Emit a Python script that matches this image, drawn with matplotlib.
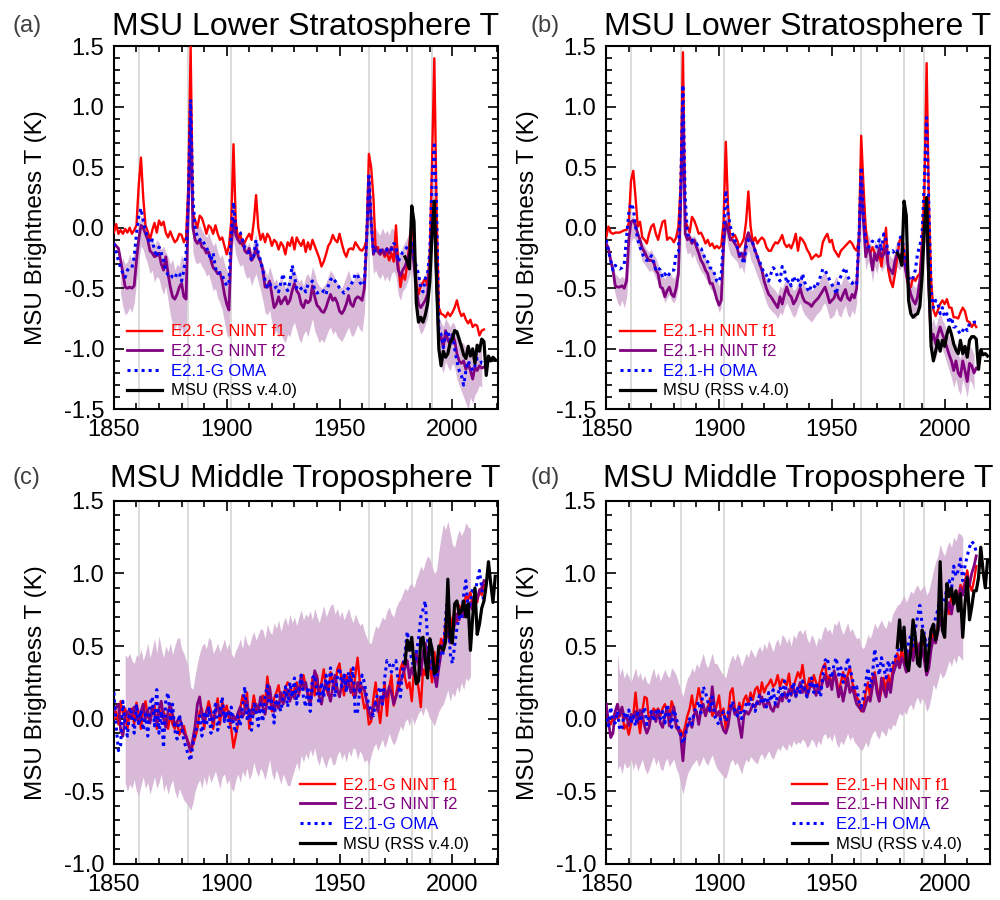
import numpy as np
import matplotlib
matplotlib.use('Agg')
import matplotlib.pyplot as plt
from matplotlib.ticker import MultipleLocator, FormatStrFormatter

plt.rcParams['font.family'] = ['Liberation Sans', 'DejaVu Sans']
plt.rcParams['axes.unicode_minus'] = False

# ---------------- data ----------------
model_years = np.arange(1850, 2015)
band_years_ls = np.arange(1853, 2014)
band_years_mt = np.arange(1855, 2009)
msu_years = np.arange(1979, 2020)
volcano_years = [1861, 1883, 1902, 1963, 1982, 1991]

titles = ["MSU Lower Stratosphere T", "MSU Lower Stratosphere T",
          "MSU Middle Troposphere T", "MSU Middle Troposphere T"]
panel_labels = ["(a)", "(b)", "(c)", "(d)"]
series_labels_g = ["E2.1-G NINT f1", "E2.1-G NINT f2", "E2.1-G OMA", "MSU (RSS v.4.0)"]
series_labels_h = ["E2.1-H NINT f1", "E2.1-H NINT f2", "E2.1-H OMA", "MSU (RSS v.4.0)"]
ylabel = "MSU Brightness T (K)"

# (a) lower stratosphere, E2.1-G
a_f1 = [-0.04, 0.03, -0.05, -0.02, -0.05, -0.01, -0.04, 0.0, -0.05, -0.02,
        0.02, 0.35, 0.58, 0.25, 0.02, -0.03, -0.10, -0.02, 0.04, -0.04,
        0.06, 0.02, 0.05, -0.04, -0.08, -0.03, -0.08, -0.12, -0.10, -0.05,
        -0.06, -0.12, -0.08, 0.35, 1.50, 0.12, 0.06, 0.0, 0.10, 0.08,
        0.02, -0.05, 0.02, 0.0, -0.05, 0.02, -0.05, -0.10, -0.08, -0.15,
        -0.22, -0.15, 0.05, 0.69, 0.05, -0.10, -0.05, -0.15, -0.12, -0.08,
        -0.05, -0.10, 0.05, 0.27, 0.0, -0.10, -0.05, -0.12, -0.05, -0.08,
        -0.15, -0.10, -0.12, -0.18, -0.12, -0.15, -0.22, -0.12, -0.15, -0.08,
        -0.18, -0.08, -0.12, -0.15, -0.10, -0.20,
        -0.12, -0.18, -0.10, -0.15, -0.20, -0.25, -0.32, -0.28, -0.22, -0.15,
        -0.12, -0.06, -0.10, -0.12, -0.05, -0.13, -0.20, -0.24, -0.18, -0.17,
        -0.18, -0.12, -0.15, -0.18, -0.19, -0.16, -0.10, 0.61, 0.50, 0.25,
        -0.18, -0.16, -0.22, -0.19, -0.24, -0.21, -0.27, -0.21, -0.28, 0.02,
        -0.30, -0.49, -0.38, -0.43, -0.30, -0.12, 0.05, -0.15, -0.45, -0.55,
        -0.48, -0.45, -0.42, -0.48, -0.20, 0.55, 1.40, 0.15, -0.66, -0.71,
        -0.72, -0.74, -0.70, -0.73, -0.70, -0.66, -0.60, -0.68, -0.73, -0.71,
        -0.76, -0.79, -0.76, -0.82, -0.80, -0.81, -0.89, -0.85, -0.84]
a_f2 = [-0.13, -0.15, -0.17, -0.27, -0.38, -0.49, -0.50, -0.49, -0.50, -0.48,
        -0.27, -0.10, 0.02, 0.0, -0.05, -0.10, -0.19, -0.21, -0.24, -0.23,
        -0.21, -0.30, -0.35, -0.24, -0.38, -0.49, -0.57, -0.59, -0.55, -0.49,
        -0.46, -0.57, -0.59, 0.20, 0.90, 0.0, -0.10, -0.13, -0.10, -0.16,
        -0.17, -0.21, -0.20, -0.27, -0.33, -0.35, -0.38, -0.37, -0.44, -0.55,
        -0.63, -0.68, -0.15, 0.07, -0.06, -0.10, -0.13, -0.10, -0.19, -0.21,
        -0.17, -0.27, -0.24, -0.16, -0.24, -0.28, -0.35, -0.49, -0.49, -0.44,
        -0.55, -0.66, -0.63, -0.57, -0.63, -0.60, -0.57, -0.63, -0.60, -0.52,
        -0.46, -0.52, -0.55, -0.63, -0.66, -0.60,
        -0.62, -0.60, -0.48, -0.57, -0.64, -0.66, -0.69, -0.70, -0.66, -0.60,
        -0.55, -0.60, -0.58, -0.62, -0.69, -0.71, -0.68, -0.63, -0.56, -0.63,
        -0.65, -0.59, -0.57, -0.58, -0.60, -0.50, -0.10, 0.40, 0.05, -0.22,
        -0.16, -0.20, -0.22, -0.18, -0.22, -0.17, -0.21, -0.16, -0.18, -0.20,
        -0.35, -0.40, -0.35, -0.32, -0.27, -0.20, -0.15, -0.30, -0.50, -0.63,
        -0.66, -0.63, -0.60, -0.55, -0.30, 0.05, 0.17, -0.45, -0.93, -0.90,
        -0.99, -0.85, -0.93, -0.96, -0.88, -0.93, -1.04, -1.10, -1.12, -1.10,
        -1.17, -1.12, -1.18, -1.25, -1.15, -1.18, -1.14, -1.16, -1.15]
a_oma = [-0.13, -0.21, -0.27, -0.33, -0.38, -0.41, -0.35, -0.33, -0.33, -0.24,
         -0.05, 0.09, 0.16, 0.06, -0.02, -0.08, -0.13, -0.10, -0.19, -0.24,
         -0.16, -0.21, -0.27, -0.35, -0.39, -0.38, -0.41, -0.42, -0.37, -0.38,
         -0.44, -0.35, -0.21, 0.25, 1.06, 0.25, 0.0, -0.08, -0.10, -0.09,
         -0.13, -0.16, -0.21, -0.27, -0.21, -0.33, -0.38, -0.37, -0.39, -0.44,
         -0.48, -0.46, -0.05, 0.21, 0.0, -0.02, -0.04, -0.10, -0.17, -0.19,
         -0.21, -0.27, -0.23, -0.10, -0.21, -0.27, -0.35, -0.44, -0.49, -0.46,
         -0.49, -0.50, -0.49, -0.53, -0.45, -0.38, -0.49, -0.52, -0.45, -0.31,
         -0.40, -0.50, -0.52,
         -0.50, -0.49, -0.53, -0.47, -0.46, -0.44, -0.51, -0.54, -0.53, -0.54,
         -0.52, -0.55, -0.48, -0.43, -0.41, -0.44, -0.46, -0.50, -0.52, -0.54,
         -0.52, -0.50, -0.47, -0.44, -0.38, -0.39, -0.45, -0.48, -0.45, -0.10,
         0.45, 0.05, -0.20, -0.18, -0.19, -0.19, -0.18, -0.19, -0.18, -0.20,
         -0.18, -0.13, -0.14, -0.28, -0.24, -0.20, -0.18, -0.16, -0.14, -0.10,
         -0.25, -0.32, -0.38, -0.50, -0.53, -0.42, -0.38, -0.20, 0.39, 0.71,
         0.17, -0.85, -0.88, -0.99, -0.88, -0.85, -0.93, -0.88, -1.0, -1.10,
         -1.18, -1.22, -1.30, -1.18, -1.10, -1.14, -1.18, -1.14, -1.08, -1.08,
         -1.12, -1.12]
a_hi = [-0.30, -0.25, -0.30, -0.28, -0.22, -0.28, -0.20, -0.10, 0.02, 0.10,
        0.06, -0.02, -0.05, -0.12, -0.08, -0.15, -0.10, -0.12, -0.18, -0.15,
        -0.20, -0.24, -0.30, -0.26, -0.35, -0.30, -0.32, -0.22, -0.28, -0.35,
        0.50, 1.05, 0.10, 0.05, 0.0, 0.02, -0.02, -0.05, -0.08, -0.04,
        -0.10, -0.15, -0.12, -0.20, -0.25, -0.22, -0.30, -0.35, -0.38, 0.0,
        0.22, 0.05, -0.05, -0.08, -0.12, -0.10, -0.15, -0.12, -0.20, -0.10,
        -0.05, -0.18, -0.25, -0.30, -0.35, -0.40, -0.32, -0.38, -0.45, -0.42,
        -0.48, -0.40, -0.45, -0.50, -0.45, -0.40, -0.30, -0.35, -0.40, -0.45,
        -0.42, -0.48, -0.40, -0.38, -0.42, -0.32, -0.38, -0.45, -0.48, -0.50,
        -0.48, -0.45, -0.40, -0.35, -0.38, -0.42, -0.45, -0.48, -0.50, -0.45,
        -0.40, -0.35, -0.42, -0.45, -0.38, -0.36, -0.40, -0.42, -0.35, -0.02,
        0.48, 0.18, -0.05, 0.0, -0.04, -0.06, 0.0, -0.05, -0.02, -0.06,
        0.0, -0.02, -0.05, -0.18, -0.22, -0.15, -0.12, -0.08, -0.02, 0.02,
        -0.12, -0.30, -0.40, -0.45, -0.42, -0.38, -0.32, -0.10, 0.40, 0.72,
        0.10, -0.75, -0.78, -0.82, -0.75, -0.78, -0.82, -0.78, -0.80, -0.88,
        -0.92, -0.95, -0.95, -1.0, -0.95, -1.0, -1.05, -1.0, -1.02, -0.98,
        -1.0]
a_lo = [-0.55, -0.65, -0.72, -0.70, -0.66, -0.70, -0.62, -0.45, -0.28, -0.15,
        -0.18, -0.25, -0.30, -0.38, -0.35, -0.45, -0.40, -0.42, -0.50, -0.55,
        -0.48, -0.60, -0.72, -0.80, -0.85, -0.78, -0.88, -0.82, -0.90, -0.85,
        -0.10, 0.80, -0.20, -0.28, -0.30, -0.28, -0.32, -0.35, -0.40, -0.38,
        -0.45, -0.52, -0.50, -0.58, -0.62, -0.68, -0.78, -0.88, -0.92, -0.25,
        -0.10, -0.22, -0.28, -0.32, -0.30, -0.38, -0.42, -0.40, -0.48, -0.42,
        -0.38, -0.45, -0.52, -0.60, -0.70, -0.72, -0.68, -0.78, -0.88, -0.85,
        -0.90, -0.88, -0.92, -0.95, -0.88, -0.90, -0.82, -0.78, -0.85, -0.92,
        -0.95, -0.88, -0.85, -0.90, -0.82, -0.75, -0.85, -0.90, -0.95, -0.92,
        -0.95, -0.90, -0.85, -0.82, -0.88, -0.85, -0.90, -0.92, -0.94, -0.90,
        -0.86, -0.82, -0.88, -0.90, -0.85, -0.80, -0.84, -0.86, -0.70, -0.30,
        0.25, -0.15, -0.38, -0.35, -0.40, -0.42, -0.38, -0.44, -0.40, -0.45,
        -0.38, -0.36, -0.40, -0.55, -0.60, -0.52, -0.50, -0.45, -0.40, -0.35,
        -0.50, -0.70, -0.82, -0.88, -0.85, -0.80, -0.75, -0.50, -0.10, 0.05,
        -0.60, -1.12, -1.15, -1.20, -1.10, -1.15, -1.18, -1.12, -1.15, -1.25,
        -1.30, -1.35, -1.40, -1.45, -1.50, -1.40, -1.45, -1.38, -1.35, -1.30,
        -1.32]
msu_ls_a = [-0.24, -0.28, -0.34, 0.18, 0.05, -0.62, -0.78, -0.74, -0.78, -0.72,
            -0.63, -0.45, -0.05, 0.22, -0.45, -1.00, -1.14, -1.02, -1.07, -1.04,
            -0.95, -0.92, -0.85, -0.86, -0.92, -0.98, -1.05, -1.08, -0.98, -1.06,
            -1.00, -1.12, -0.97, -1.02, -0.92, -0.94, -1.22, -1.06, -1.10, -1.07,
            -1.09]

# (b) lower stratosphere, E2.1-H
b_f1 = [-0.08, 0.01, -0.04, -0.05, -0.04, -0.04, -0.04, -0.03, -0.02, -0.02,
        0.04, 0.39, 0.47, 0.25, 0.01, 0.05, -0.08, -0.10, -0.13, -0.05,
        0.01, 0.03, -0.05, -0.10, -0.02, 0.05, 0.06, -0.10, -0.08, -0.09,
        -0.12, -0.08, 0.01, 0.35, 1.45, 0.06, 0.01, -0.04, 0.09, 0.06,
        0.01, -0.05, -0.04, -0.08, -0.13, -0.10, -0.15, -0.13, -0.17, -0.15,
        -0.17, -0.15, 0.05, 0.71, 0.17, -0.10, -0.08, -0.06, -0.10, -0.16,
        -0.13, -0.09, 0.05, 0.30, 0.01, -0.12, -0.08, -0.13, -0.10, -0.08,
        -0.10, -0.16, -0.19, -0.19, -0.15, -0.12, -0.13, -0.10, -0.06, -0.13,
        -0.16, -0.14, -0.17, -0.12, -0.05, -0.19,
        -0.08, -0.10, -0.13, -0.18, -0.21, -0.26, -0.24, -0.22, -0.24, -0.23,
        -0.12, -0.08, -0.05, -0.12, -0.10, -0.18, -0.21, -0.24, -0.19, -0.17,
        -0.15, -0.13, -0.11, -0.13, -0.17, -0.19, -0.10, 0.76, 0.35, 0.0,
        -0.15, -0.21, -0.16, -0.21, -0.26, -0.21, -0.32, -0.16, 0.0, -0.35,
        -0.44, -0.49, -0.38, -0.24, -0.11, -0.08, -0.19, -0.38, -0.49, -0.49,
        -0.41, -0.44, -0.40, -0.38, -0.10, 0.30, 1.36, 0.20, -0.44, -0.68,
        -0.73, -0.68, -0.63, -0.60, -0.63, -0.59, -0.66, -0.66, -0.74, -0.74,
        -0.75, -0.70, -0.66, -0.69, -0.77, -0.78, -0.82, -0.79, -0.82]
b_f2 = [-0.13, -0.17, -0.27, -0.35, -0.48, -0.49, -0.49, -0.48, -0.50, -0.44,
        -0.10, 0.05, 0.06, 0.02, -0.05, -0.10, -0.17, -0.20, -0.24, -0.27,
        -0.27, -0.28, -0.35, -0.38, -0.49, -0.50, -0.57, -0.52, -0.49, -0.55,
        -0.57, -0.50, -0.38, 0.20, 1.00, -0.05, -0.10, -0.08, -0.13, -0.10,
        -0.16, -0.21, -0.27, -0.30, -0.35, -0.38, -0.46, -0.46, -0.52, -0.59,
        -0.64, -0.60, -0.15, 0.05, -0.02, -0.10, -0.10, -0.13, -0.16, -0.24,
        -0.21, -0.27, -0.10, -0.04, -0.10, -0.13, -0.19, -0.24, -0.30, -0.35,
        -0.44, -0.50, -0.55, -0.57, -0.60, -0.63, -0.66, -0.57, -0.63, -0.55,
        -0.49, -0.55, -0.57, -0.63, -0.60, -0.55,
        -0.50, -0.57, -0.61, -0.62, -0.63, -0.65, -0.62, -0.60, -0.58, -0.55,
        -0.52, -0.49, -0.55, -0.62, -0.60, -0.58, -0.52, -0.58, -0.60, -0.55,
        -0.51, -0.58, -0.60, -0.55, -0.58, -0.50, -0.10, 0.39, 0.05, -0.24,
        -0.16, -0.21, -0.35, -0.21, -0.27, -0.17, -0.24, -0.22, -0.16, -0.32,
        -0.35, -0.38, -0.27, -0.21, -0.24, -0.21, -0.27, -0.38, -0.47, -0.55,
        -0.60, -0.63, -0.57, -0.44, -0.20, 0.0, 0.09, -0.50, -0.93, -0.88,
        -0.96, -0.88, -0.82, -0.88, -0.93, -0.99, -1.05, -1.10, -1.18, -1.10,
        -1.20, -1.23, -1.10, -1.18, -1.27, -1.12, -1.14, -1.20, -1.16]
b_oma = [-0.10, -0.19, -0.27, -0.35, -0.31, -0.33, -0.34, -0.33, -0.30, -0.08,
         0.12, 0.20, 0.16, 0.01, -0.10, -0.16, -0.21, -0.26, -0.27, -0.27,
         -0.23, -0.28, -0.35, -0.33, -0.35, -0.41, -0.38, -0.41, -0.38, -0.35,
         -0.35, -0.21, -0.20, 0.30, 1.18, 0.25, -0.05, -0.08, -0.10, -0.13,
         -0.13, -0.16, -0.17, -0.21, -0.27, -0.28, -0.33, -0.34, -0.38, -0.44,
         -0.45, -0.38, -0.10, 0.31, 0.12, 0.01, -0.05, -0.10, -0.16, -0.21,
         -0.24, -0.30, -0.16, -0.10, -0.10, -0.13, -0.19, -0.24, -0.28, -0.33,
         -0.38, -0.39, -0.44, -0.38, -0.33, -0.35, -0.41, -0.44, -0.32, -0.35,
         -0.46, -0.43, -0.48,
         -0.40, -0.45, -0.43, -0.48, -0.38, -0.45, -0.50, -0.53, -0.47, -0.48,
         -0.50, -0.45, -0.40, -0.34, -0.35, -0.39, -0.43, -0.47, -0.50, -0.55,
         -0.45, -0.40, -0.36, -0.33, -0.40, -0.44, -0.46, -0.44, -0.46, -0.10,
         0.50, 0.10, -0.10, -0.16, -0.15, -0.11, -0.13, -0.16, -0.10, -0.19,
         -0.05, -0.10, -0.21, -0.21, -0.19, -0.22, -0.20, -0.10, -0.05, -0.21,
         -0.32, -0.41, -0.44, -0.41, -0.35, -0.21, -0.15, -0.05, 0.40, 0.91,
         0.17, -0.52, -0.66, -0.60, -0.63, -0.71, -0.66, -0.74, -0.71, -0.79,
         -0.74, -0.82, -0.82, -0.85, -0.88, -0.85, -0.82, -0.85, -0.79, -0.79,
         -0.78, -0.78]
b_hi = [-0.30, -0.38, -0.40, -0.42, -0.40, -0.42, -0.35, -0.15, 0.08, 0.10,
        0.05, -0.02, -0.08, -0.12, -0.15, -0.18, -0.20, -0.18, -0.22, -0.25,
        -0.30, -0.35, -0.40, -0.42, -0.38, -0.36, -0.40, -0.42, -0.38, -0.30,
        0.50, 1.15, 0.05, -0.05, -0.04, -0.08, -0.06, -0.10, -0.15, -0.18,
        -0.20, -0.25, -0.28, -0.32, -0.34, -0.38, -0.42, -0.48, -0.45, -0.05,
        0.20, 0.0, -0.08, -0.10, -0.12, -0.14, -0.20, -0.18, -0.22, -0.10,
        -0.05, -0.12, -0.15, -0.20, -0.24, -0.28, -0.32, -0.38, -0.42, -0.45,
        -0.48, -0.50, -0.52, -0.55, -0.48, -0.50, -0.45, -0.42, -0.45, -0.48,
        -0.52, -0.50, -0.45, -0.38, -0.42, -0.48, -0.50, -0.50, -0.52, -0.50,
        -0.46, -0.45, -0.42, -0.38, -0.35, -0.42, -0.48, -0.46, -0.44, -0.40,
        -0.45, -0.47, -0.42, -0.38, -0.44, -0.46, -0.42, -0.44, -0.35, 0.0,
        0.48, 0.15, -0.12, -0.05, -0.10, -0.22, -0.10, -0.15, -0.06, -0.12,
        -0.10, -0.04, -0.20, -0.24, -0.26, -0.16, -0.10, -0.12, -0.10, -0.15,
        -0.26, -0.34, -0.42, -0.47, -0.50, -0.44, -0.32, -0.08, 0.15, 0.25,
        -0.35, -0.80, -0.75, -0.82, -0.75, -0.70, -0.76, -0.80, -0.85, -0.90,
        -0.95, -1.02, -0.95, -1.05, -1.08, -0.95, -1.02, -1.10, -0.98, -1.0,
        -1.05]
b_lo = [-0.45, -0.55, -0.62, -0.65, -0.60, -0.66, -0.58, -0.35, -0.12, -0.08,
        -0.10, -0.15, -0.20, -0.28, -0.30, -0.33, -0.36, -0.35, -0.37, -0.42,
        -0.45, -0.52, -0.56, -0.62, -0.58, -0.55, -0.60, -0.62, -0.58, -0.48,
        0.05, 0.85, -0.15, -0.22, -0.20, -0.25, -0.22, -0.28, -0.32, -0.36,
        -0.38, -0.42, -0.45, -0.50, -0.52, -0.56, -0.62, -0.70, -0.66, -0.25,
        -0.05, -0.15, -0.22, -0.24, -0.26, -0.28, -0.34, -0.32, -0.38, -0.25,
        -0.18, -0.26, -0.30, -0.35, -0.40, -0.45, -0.50, -0.56, -0.62, -0.66,
        -0.68, -0.70, -0.72, -0.75, -0.70, -0.72, -0.66, -0.62, -0.66, -0.70,
        -0.74, -0.72, -0.66, -0.62, -0.68, -0.72, -0.74, -0.76, -0.78, -0.75,
        -0.72, -0.70, -0.68, -0.64, -0.62, -0.68, -0.75, -0.74, -0.72, -0.66,
        -0.72, -0.74, -0.68, -0.64, -0.72, -0.74, -0.68, -0.72, -0.62, -0.20,
        0.28, -0.08, -0.35, -0.28, -0.32, -0.45, -0.32, -0.38, -0.28, -0.36,
        -0.33, -0.28, -0.42, -0.46, -0.50, -0.38, -0.32, -0.35, -0.32, -0.38,
        -0.50, -0.60, -0.68, -0.72, -0.76, -0.70, -0.56, -0.32, -0.15, -0.05,
        -0.65, -1.05, -1.0, -1.08, -1.0, -0.95, -1.0, -1.06, -1.12, -1.18,
        -1.24, -1.32, -1.25, -1.34, -1.38, -1.25, -1.32, -1.40, -1.26, -1.28,
        -1.34]
msu_ls_b = [-0.21, -0.24, -0.31, 0.22, 0.10, -0.60, -0.71, -0.74, -0.72, -0.71,
            -0.65, -0.40, 0.0, 0.25, -0.45, -0.98, -1.10, -1.02, -0.93, -1.02,
            -0.93, -0.98, -0.88, -0.82, -0.88, -0.96, -1.01, -1.04, -0.93, -1.04,
            -0.98, -1.07, -0.93, -0.90, -0.90, -0.92, -1.17, -1.01, -1.05, -1.04,
            -1.06]

# (c) middle troposphere, E2.1-G
c_f1 = [0.00, 0.05, -0.04, 0.12, 0.03, 0.07, -0.07, 0.05, 0.07, -0.04,
        0.11, 0.03, -0.07, 0.07, 0.12, 0.02, -0.02, 0.05, 0.09, -0.07,
        0.07, 0.01, 0.05, 0.0, -0.07, 0.03, -0.04, -0.07, -0.02, -0.11,
        -0.07, -0.05, -0.12, -0.16, -0.23, -0.18, -0.13, -0.07, 0.05, 0.07,
        -0.07, 0.05, 0.12, 0.05, -0.07, 0.05, 0.14, -0.04, 0.12, 0.05,
        0.09, 0.0, -0.07, -0.20, -0.12, -0.04, 0.07, 0.16, 0.07, 0.18,
        -0.07, 0.05, 0.16, 0.07, 0.05, 0.12, 0.16, 0.10, 0.29, 0.16,
        0.05, 0.14, 0.18, 0.23, 0.12, 0.16, 0.21, 0.25, 0.23, 0.16,
        0.21, 0.25, 0.16, 0.25, 0.30, 0.22, 0.18,
        0.12, 0.28, 0.16, 0.30, 0.16, 0.25, 0.34, 0.21, 0.16, 0.32,
        0.25, 0.20, 0.34, 0.38, 0.25, 0.16, 0.30, 0.23, 0.34, 0.16,
        0.30, 0.42, 0.25, 0.16, 0.07, 0.10, -0.04, -0.02, 0.14, 0.25,
        0.09, -0.03, 0.12, 0.25, 0.02, 0.21, 0.30, 0.09, 0.16, 0.25,
        0.34, 0.39, 0.28, 0.21, 0.25, 0.12, 0.34, 0.30, 0.21, 0.08,
        0.34, 0.30, 0.46, 0.37, 0.25, 0.46, 0.35, 0.45, 0.55, 0.50,
        0.66, 0.62, 0.57, 0.69, 0.73, 0.66, 0.78, 0.73, 0.76, 0.85,
        0.82, 0.87, 0.78, 0.82, 0.80, 0.89, 0.85, 0.92]
c_f2 = [0.05, 0.08, 0.10, -0.08, -0.12, 0.02, 0.05, 0.00, 0.03, 0.08,
        0.02, -0.02, 0.05, 0.10, 0.0, 0.06, -0.03, 0.08, 0.04, -0.05,
        0.07, 0.12, 0.0, -0.06, 0.05, 0.10, 0.03, -0.05, -0.02, 0.01,
        -0.04, -0.10, -0.12, -0.18, -0.22, -0.14, -0.05, 0.10, 0.15, 0.02,
        -0.03, 0.05, 0.08, 0.02, -0.02, 0.05, 0.10, 0.02, 0.06, 0.0,
        0.03, 0.05, -0.03, 0.02, -0.01, 0.04, 0.08, 0.01, 0.05, 0.12,
        0.0, 0.06, 0.03, 0.10, 0.05, 0.15, 0.08, 0.03, 0.12, 0.22,
        0.10, 0.05, 0.12, 0.07, 0.18, 0.10, 0.15, 0.20, 0.12, 0.18,
        0.14, 0.22, 0.18, 0.30, 0.20, 0.25, 0.15, 0.10, 0.20, 0.33,
        0.28, 0.15, 0.10, 0.20, 0.25, 0.18, 0.12, 0.22, 0.30, 0.20,
        0.15, 0.24, 0.30, 0.20, 0.26, 0.18, 0.22, 0.15, 0.25, 0.18,
        0.22, 0.20, 0.12, 0.05, 0.0, 0.08, 0.12, 0.05, 0.15, 0.10,
        0.20, 0.15, 0.22, 0.18, 0.10, 0.15, 0.20, 0.25, 0.30, 0.35,
        0.40, 0.28, 0.35, 0.30, 0.45, 0.38, 0.30, 0.45, 0.52, 0.40,
        0.35, 0.42, 0.30, 0.22, 0.35, 0.45, 0.50, 0.55, 0.60, 0.52,
        0.58, 0.65, 0.72, 0.68, 0.75, 0.70, 0.78, 0.72, 0.80, 0.75,
        0.85, 0.82, 0.88, 0.90, 0.95]
c_oma = [0.18, -0.05, -0.22, -0.18, 0.12, -0.05, -0.12, 0.08, 0.02, -0.10,
         0.10, -0.05, 0.06, -0.08, 0.03, -0.12, 0.10, 0.15, -0.05, 0.20,
         -0.10, 0.05, -0.20, 0.13, 0.18, -0.02, 0.10, -0.08, -0.14, 0.03,
         -0.05, -0.15, -0.20, -0.25, -0.29, -0.18, -0.10, -0.05, 0.02, -0.12,
         0.05, -0.05, 0.08, -0.10, 0.02, 0.10, -0.08, 0.03, 0.15, -0.02,
         0.05, -0.06, 0.08, -0.04, -0.10, 0.02, -0.05, 0.08, 0.22, 0.0,
         0.06, -0.08, 0.10, 0.05, -0.05, 0.10, -0.02, 0.15, 0.23, 0.05,
         0.12, -0.03, 0.18, 0.10, 0.05, 0.15, 0.22, 0.08, 0.25, 0.15,
         0.28, 0.10, 0.20, 0.30, 0.15, 0.08, 0.22, 0.05, 0.28, 0.30,
         0.18, 0.10, 0.25, 0.15, 0.30, 0.20, 0.35, 0.25, 0.15, 0.28,
         0.35, 0.22, 0.30, 0.18, 0.32, 0.25, 0.35, 0.03, 0.05, 0.20,
         0.30, 0.25, 0.15, 0.10, 0.05, 0.02, 0.12, 0.18, 0.22, 0.10,
         0.28, 0.40, 0.38, 0.32, 0.38, 0.40, 0.25, 0.15, 0.35, 0.45,
         0.60, 0.50, 0.40, 0.35, 0.45, 0.55, 0.70, 0.75, 0.81, 0.55,
         0.40, 0.35, 0.30, 0.28, 0.40, 0.50, 0.45, 0.70, 0.85, 0.45,
         0.38, 0.50, 0.62, 0.70, 0.68, 0.85, 0.95, 0.75, 0.80, 0.90,
         0.85, 0.95, 1.02, 0.90, 0.80]
c_hi = [0.44, 0.42, 0.45, 0.40, 0.38, 0.44, 0.42, 0.48, 0.40, 0.45,
        0.52, 0.42, 0.48, 0.55, 0.45, 0.57, 0.48, 0.42, 0.50, 0.46,
        0.52, 0.44, 0.50, 0.55, 0.56, 0.48, 0.45, 0.40, 0.35, 0.22,
        0.20, 0.30, 0.38, 0.45, 0.50, 0.52, 0.48, 0.56, 0.54, 0.45,
        0.48, 0.52, 0.46, 0.50, 0.55, 0.48, 0.52, 0.45, 0.42, 0.47,
        0.50, 0.55, 0.48, 0.58, 0.52, 0.50, 0.56, 0.60, 0.54, 0.58,
        0.62, 0.61, 0.55, 0.65, 0.60, 0.58, 0.66, 0.62, 0.68, 0.60,
        0.66, 0.70, 0.64, 0.72, 0.66, 0.70, 0.64, 0.70, 0.75, 0.68,
        0.72, 0.70, 0.74, 0.68, 0.76, 0.70, 0.66, 0.72, 0.78, 0.70,
        0.74, 0.78, 0.79, 0.72, 0.76, 0.70, 0.74, 0.68, 0.72, 0.76,
        0.70, 0.66, 0.72, 0.68, 0.64, 0.66, 0.60, 0.56, 0.52, 0.52,
        0.58, 0.64, 0.62, 0.66, 0.70, 0.68, 0.74, 0.77, 0.72, 0.70,
        0.76, 0.80, 0.82, 0.86, 0.90, 0.88, 0.92, 0.93, 0.90, 0.96,
        1.00, 1.05, 1.02, 1.08, 1.12, 1.10, 1.05, 1.00, 1.02, 1.15,
        1.25, 1.34, 1.30, 1.36, 1.28, 1.20, 1.18, 1.25, 1.30, 1.26,
        1.29, 1.35, 1.32, 1.31]
c_lo = [-0.44, -0.50, -0.45, -0.48, -0.42, -0.50, -0.53, -0.46, -0.40, -0.48,
        -0.44, -0.52, -0.46, -0.40, -0.48, -0.44, -0.38, -0.50, -0.45, -0.52,
        -0.46, -0.42, -0.50, -0.55, -0.48, -0.52, -0.56, -0.58, -0.60, -0.63,
        -0.58, -0.50, -0.45, -0.42, -0.48, -0.40, -0.46, -0.38, -0.44, -0.40,
        -0.36, -0.42, -0.48, -0.40, -0.38, -0.45, -0.42, -0.48, -0.50, -0.42,
        -0.38, -0.44, -0.36, -0.40, -0.34, -0.42, -0.38, -0.30, -0.36, -0.40,
        -0.34, -0.37, -0.42, -0.35, -0.28, -0.38, -0.42, -0.35, -0.40, -0.45,
        -0.38, -0.42, -0.46, -0.46, -0.40, -0.35, -0.30, -0.36, -0.25, -0.30,
        -0.24, -0.28, -0.21, -0.26, -0.20, -0.28, -0.32, -0.25, -0.30, -0.34,
        -0.28, -0.26, -0.32, -0.31, -0.25, -0.22, -0.28, -0.24, -0.30, -0.22,
        -0.26, -0.20, -0.21, -0.28, -0.22, -0.25, -0.30, -0.28, -0.32, -0.25,
        -0.20, -0.17, -0.22, -0.18, -0.14, -0.20, -0.16, -0.10, -0.15, -0.18,
        -0.15, -0.10, -0.05, -0.08, -0.02, 0.0, -0.05, 0.02, -0.04, 0.0,
        0.04, 0.06, 0.02, 0.08, 0.05, 0.0, -0.02, -0.05, 0.0, 0.05,
        0.08, 0.10, 0.15, 0.20, 0.12, 0.18, 0.15, 0.22, 0.18, 0.25,
        0.20, 0.28, 0.26, 0.29]
msu_mt_c = [0.38, 0.54, 0.47, 0.56, 0.38, 0.24, 0.26, 0.55, 0.56, 0.40,
            0.28, 0.55, 0.48, 0.31, 0.33, 0.50, 0.49, 0.47, 0.53, 0.96,
            0.56, 0.52, 0.79, 0.81, 0.72, 0.74, 0.81, 0.70, 0.79, 0.47,
            0.70, 0.90, 0.58, 0.65, 0.76, 0.81, 0.92, 1.08, 0.93, 0.80,
            0.98]

# (d) middle troposphere, E2.1-H
d_f1 = [0.00, 0.0, -0.04, 0.0, 0.05, 0.0, 0.02, 0.07, -0.07, -0.04,
        -0.11, -0.04, 0.02, 0.18, 0.02, -0.10, 0.05, 0.15, 0.14, -0.02,
        0.02, 0.07, 0.05, 0.07, 0.02, 0.07, 0.10, 0.05, 0.02, 0.12,
        0.07, -0.04, -0.07, -0.08, -0.12, -0.05, 0.02, 0.07, 0.16, 0.05,
        0.12, 0.21, 0.13, 0.07, 0.02, 0.07, 0.14, 0.02, 0.05, 0.09,
        0.16, 0.02, 0.07, -0.07, 0.02, 0.18, 0.21, 0.07, 0.02, 0.11,
        0.05, 0.13, 0.16, 0.10, 0.18, 0.13, 0.20, 0.22, 0.15, 0.25,
        0.18, 0.22, 0.24, 0.27, 0.22, 0.24, 0.30, 0.22, 0.27, 0.25,
        0.23, 0.31, 0.18, 0.22, 0.27, 0.32,
        0.28, 0.37, 0.25, 0.20, 0.28, 0.22, 0.30, 0.25, 0.20, 0.30,
        0.35, 0.38, 0.25, 0.30, 0.22, 0.32, 0.28, 0.18, 0.25, 0.32,
        0.24, 0.30, 0.35, 0.25, 0.20, 0.15, 0.12, 0.05, 0.08, 0.18,
        0.25, 0.15, 0.28, 0.32, 0.22, 0.12, 0.20, 0.28, 0.18, 0.30,
        0.22, 0.35, 0.40, 0.45, 0.38, 0.48, 0.40, 0.35, 0.42, 0.50,
        0.45, 0.55, 0.48, 0.42, 0.50, 0.55, 0.40, 0.45, 0.52, 0.60,
        0.55, 0.65, 0.72, 0.62, 0.68, 0.78, 0.72, 0.85, 0.80, 0.88,
        0.82, 0.92, 0.88, 0.95, 1.02, 0.92, 0.88, 0.95, 1.05]
d_f2 = [0.10, -0.02, -0.13, -0.10, 0.05, 0.10, 0.02, 0.08, 0.0, 0.02,
        -0.05, 0.03, 0.0, 0.05, -0.03, 0.06, 0.02, -0.05, -0.10, -0.06,
        0.03, 0.05, -0.02, 0.06, -0.03, -0.06, 0.02, 0.07, -0.05, 0.03,
        0.08, -0.06, -0.08, -0.12, -0.29, -0.10, -0.05, -0.02, -0.06, 0.03,
        0.05, -0.04, 0.06, 0.10, 0.02, 0.08, 0.05, 0.22, 0.08, 0.02,
        0.05, -0.03, -0.08, -0.10, -0.05, 0.06, 0.10, 0.03, 0.06, -0.04,
        -0.13, 0.02, 0.05, 0.03, 0.06, 0.10, 0.08, 0.12, 0.10, 0.15,
        0.08, 0.10, 0.12, 0.07, 0.05, 0.10, 0.08, 0.15, 0.12, 0.18,
        0.14, 0.20, 0.16, 0.22, 0.15, 0.20, 0.25, 0.18, 0.22, 0.15,
        0.20, 0.25, 0.22, 0.16, 0.22, 0.20, 0.26, 0.30, 0.22, 0.27,
        0.20, 0.33, 0.25, 0.15, 0.22, 0.12, 0.20, 0.28, 0.18, 0.22,
        0.16, 0.10, 0.08, 0.06, 0.05, 0.10, 0.15, 0.12, 0.22, 0.30,
        0.18, 0.12, 0.28, 0.20, 0.15, 0.25, 0.18, 0.30, 0.35, 0.40,
        0.35, 0.42, 0.38, 0.32, 0.45, 0.48, 0.40, 0.50, 0.45, 0.52,
        0.48, 0.40, 0.30, 0.35, 0.48, 0.55, 0.52, 0.60, 0.70, 0.62,
        0.68, 0.75, 0.80, 0.72, 0.82, 0.85, 0.80, 0.90, 0.85, 0.92,
        0.98, 0.92, 1.00, 1.05, 1.12]
d_oma = [0.0, -0.05, 0.08, -0.02, -0.03, 0.05, -0.08, -0.06, 0.03, 0.0,
         0.06, -0.03, 0.02, -0.05, 0.04, -0.02, 0.03, 0.08, -0.04, 0.02,
         0.05, -0.02, 0.04, 0.07, 0.0, 0.05, -0.03, 0.10, 0.03, -0.06,
         0.06, 0.01, -0.06, -0.10, -0.17, -0.12, -0.05, 0.0, -0.04, 0.05,
         0.08, 0.12, 0.04, 0.22, 0.18, 0.12, 0.06, 0.15, 0.02, -0.02,
         -0.04, 0.02, 0.05, -0.02, 0.04, 0.08, 0.12, 0.05, 0.02, 0.08,
         0.0, 0.05, 0.10, 0.08, 0.14, 0.10, 0.05, 0.12, 0.16, 0.10,
         0.15, 0.08, 0.18, 0.12, 0.20, 0.10, 0.16, 0.22, 0.14, 0.26,
         0.18, 0.12, 0.20, 0.25, 0.15, 0.22, 0.18, 0.26, 0.20, 0.15,
         0.22, 0.28, 0.18, 0.25, 0.20, 0.15, 0.30, 0.40, 0.42, 0.32,
         0.28, 0.38, 0.42, 0.30, 0.35, 0.25, 0.32, 0.42, 0.35, 0.28,
         0.20, 0.22, 0.12, 0.08, 0.15, 0.25, 0.35, 0.22, 0.30, 0.48,
         0.38, 0.30, 0.42, 0.35, 0.28, 0.40, 0.33, 0.38, 0.42, 0.45,
         0.50, 0.48, 0.55, 0.45, 0.52, 0.58, 0.50, 0.62, 0.70, 0.78,
         0.65, 0.58, 0.50, 0.52, 0.60, 0.62, 0.70, 0.75, 0.85, 0.80,
         0.82, 0.90, 0.95, 0.88, 1.05, 0.98, 1.02, 1.10, 0.95, 1.05,
         1.12, 1.18, 1.22, 1.20, 1.15]
d_hi = [0.45, 0.30, 0.35, 0.28, 0.32, 0.29, 0.25, 0.30, 0.35, 0.28,
        0.32, 0.26, 0.30, 0.25, 0.24, 0.30, 0.35, 0.28, 0.32, 0.26,
        0.30, 0.34, 0.30, 0.28, 0.35, 0.33, 0.30, 0.25, 0.20, 0.15,
        0.22, 0.28, 0.30, 0.35, 0.32, 0.38, 0.35, 0.40, 0.45, 0.38,
        0.35, 0.40, 0.45, 0.38, 0.38, 0.35, 0.32, 0.30, 0.28, 0.35,
        0.40, 0.44, 0.40, 0.45, 0.42, 0.36, 0.40, 0.45, 0.42, 0.48,
        0.45, 0.42, 0.47, 0.50, 0.46, 0.52, 0.48, 0.54, 0.50, 0.46,
        0.52, 0.55, 0.50, 0.58, 0.56, 0.52, 0.56, 0.50, 0.58, 0.55,
        0.60, 0.61, 0.58, 0.62, 0.55, 0.52, 0.58, 0.55, 0.50, 0.56,
        0.54, 0.60, 0.64, 0.60, 0.62, 0.58, 0.66, 0.64, 0.68, 0.62,
        0.58, 0.62, 0.66, 0.60, 0.62, 0.58, 0.55, 0.56, 0.50, 0.48,
        0.52, 0.58, 0.55, 0.60, 0.66, 0.62, 0.65, 0.68, 0.64, 0.62,
        0.68, 0.66, 0.72, 0.75, 0.78, 0.79, 0.82, 0.85, 0.80, 0.84,
        0.88, 0.86, 0.90, 0.92, 0.88, 0.90, 0.92, 0.85, 0.88, 0.95,
        1.02, 1.08, 1.12, 1.20, 1.15, 1.12, 1.18, 1.22, 1.18, 1.25,
        1.22, 1.28, 1.27, 1.25]
d_lo = [-0.35, -0.32, -0.38, -0.30, -0.34, -0.33, -0.28, -0.35, -0.30, -0.36,
        -0.32, -0.28, -0.34, -0.38, -0.35, -0.30, -0.26, -0.32, -0.28, -0.34,
        -0.36, -0.30, -0.27, -0.33, -0.30, -0.28, -0.34, -0.38, -0.45, -0.52,
        -0.45, -0.38, -0.35, -0.32, -0.30, -0.28, -0.33, -0.30, -0.26, -0.30,
        -0.32, -0.28, -0.25, -0.30, -0.34, -0.36, -0.38, -0.40, -0.41, -0.36,
        -0.30, -0.28, -0.32, -0.30, -0.34, -0.38, -0.32, -0.28, -0.30, -0.26,
        -0.28, -0.30, -0.31, -0.26, -0.24, -0.28, -0.25, -0.22, -0.26, -0.28,
        -0.24, -0.20, -0.22, -0.18, -0.20, -0.22, -0.17, -0.20, -0.15, -0.18,
        -0.16, -0.17, -0.14, -0.16, -0.20, -0.18, -0.14, -0.16, -0.20, -0.15,
        -0.18, -0.12, -0.10, -0.14, -0.12, -0.16, -0.10, -0.17, -0.20, -0.15,
        -0.18, -0.14, -0.10, -0.15, -0.12, -0.16, -0.18, -0.20, -0.22, -0.20,
        -0.16, -0.20, -0.14, -0.10, -0.08, -0.12, -0.14, -0.08, -0.10, -0.12,
        -0.06, -0.08, -0.04, -0.05, 0.0, 0.04, 0.02, 0.05, 0.03, 0.08,
        0.10, 0.06, 0.12, 0.15, 0.10, 0.14, 0.12, 0.05, 0.08, 0.15,
        0.24, 0.20, 0.26, 0.32, 0.28, 0.30, 0.35, 0.40, 0.36, 0.42,
        0.38, 0.44, 0.42, 0.40]
msu_mt_d = [0.49, 0.68, 0.47, 0.63, 0.38, 0.33, 0.47, 0.68, 0.56, 0.38,
            0.36, 0.61, 0.56, 0.33, 0.47, 0.61, 0.65, 0.54, 0.61, 1.08,
            0.61, 0.56, 0.93, 0.84, 0.90, 0.79, 0.88, 0.74, 0.86, 0.56,
            0.79, 0.97, 0.68, 0.77, 0.88, 0.88, 0.97, 1.18, 1.02, 0.90,
            1.09]

# ---------------- style ----------------
C_F1 = '#ff0000'
C_F2 = '#800080'
C_OMA = '#0000ff'
C_MSU = '#000000'
C_BAND = '#d8b9d8'
C_VOLC = '#d9d9d9'
colors = [C_F1, C_F2, C_OMA, C_MSU]

W, H = 1000, 900
fig = plt.figure(figsize=(10, 9), dpi=100)

def px_axes(left, top, right, bottom):
    return [left / W, 1 - bottom / H, (right - left) / W, (bottom - top) / H]

axes_px = [(113.9, 46.2, 497.5, 409.3), (606.2, 46.2, 989.8, 409.3),
           (113.9, 500.7, 497.5, 864.0), (606.2, 500.7, 989.8, 864.0)]

panels = [
    dict(f1=a_f1, f2=a_f2, oma=a_oma, lo=a_lo, hi=a_hi, by=band_years_ls,
         msu=msu_ls_a, labels=series_labels_g, ylim=(-1.5, 1.5), leg='ll'),
    dict(f1=b_f1, f2=b_f2, oma=b_oma, lo=b_lo, hi=b_hi, by=band_years_ls,
         msu=msu_ls_b, labels=series_labels_h, ylim=(-1.5, 1.5), leg='ll'),
    dict(f1=c_f1, f2=c_f2, oma=c_oma, lo=c_lo, hi=c_hi, by=band_years_mt,
         msu=msu_mt_c, labels=series_labels_g, ylim=(-1.0, 1.5), leg='lr'),
    dict(f1=d_f1, f2=d_f2, oma=d_oma, lo=d_lo, hi=d_hi, by=band_years_mt,
         msu=msu_mt_d, labels=series_labels_h, ylim=(-1.0, 1.5), leg='lr'),
]

title_base = [35, 35, 487, 487]
label_x = [13, 530, 13, 530]
ylab_x = [36, 528, 36, 528]

for i, p in enumerate(panels):
    l, t, r, b = axes_px[i]
    ax = fig.add_axes(px_axes(l, t, r, b))
    ax.fill_between(p['by'], p['lo'], p['hi'], color=C_BAND, lw=0, zorder=1)
    for v in volcano_years:
        ax.axvline(v, color=C_VOLC, lw=1.3, zorder=0.5)
    h1, = ax.plot(model_years, p['f1'], color=C_F1, lw=1.7, zorder=3)
    h2, = ax.plot(model_years, p['f2'], color=C_F2, lw=2.0, zorder=4)
    h3, = ax.plot(model_years, p['oma'], color=C_OMA, lw=2.2,
                  linestyle=(0, (1, 1.3)), zorder=5)
    h4, = ax.plot(msu_years, p['msu'], color=C_MSU, lw=2.3, zorder=6)
    ax.set_xlim(1850, 2020)
    ax.set_ylim(*p['ylim'])
    ax.xaxis.set_major_locator(MultipleLocator(50))
    ax.xaxis.set_minor_locator(MultipleLocator(10))
    ax.yaxis.set_major_locator(MultipleLocator(0.5))
    ax.yaxis.set_minor_locator(MultipleLocator(0.1))
    ax.yaxis.set_major_formatter(FormatStrFormatter('%.1f'))
    ax.tick_params(which='both', direction='in', top=True, right=True,
                   labelsize=17, width=1.2)
    ax.tick_params(which='major', length=7, pad=7)
    ax.tick_params(which='minor', length=4)
    for s in ax.spines.values():
        s.set_linewidth(1.5)

    common = dict(frameon=False, fontsize=12, handlelength=2.1,
                  handletextpad=0.5, labelspacing=0.28, borderpad=0,
                  borderaxespad=0)
    if p['leg'] == 'll':
        leg = ax.legend([h1, h2, h3, h4], p['labels'], loc='lower left',
                        bbox_to_anchor=(0.035, 0.03), **common)
    else:
        leg = ax.legend([h1, h2, h3, h4], p['labels'], loc='lower right',
                        bbox_to_anchor=(0.9265, 0.034), **common)
    for txt, c in zip(leg.get_texts(), colors):
        txt.set_color(c)

    cx = (l + r) / 2 / W
    fig.text(cx, 1 - title_base[i] / H, titles[i], ha='center', va='baseline',
             fontsize=23)
    fig.text(label_x[i] / W, 1 - (title_base[i] - 3) / H, panel_labels[i],
             ha='left', va='baseline', fontsize=17, color='#404040')
    fig.text(ylab_x[i] / W, 1 - (t + b) / 2 / H, ylabel, rotation=90,
             ha='center', va='center', fontsize=17.5)

fig.savefig('out.png', dpi=100)
